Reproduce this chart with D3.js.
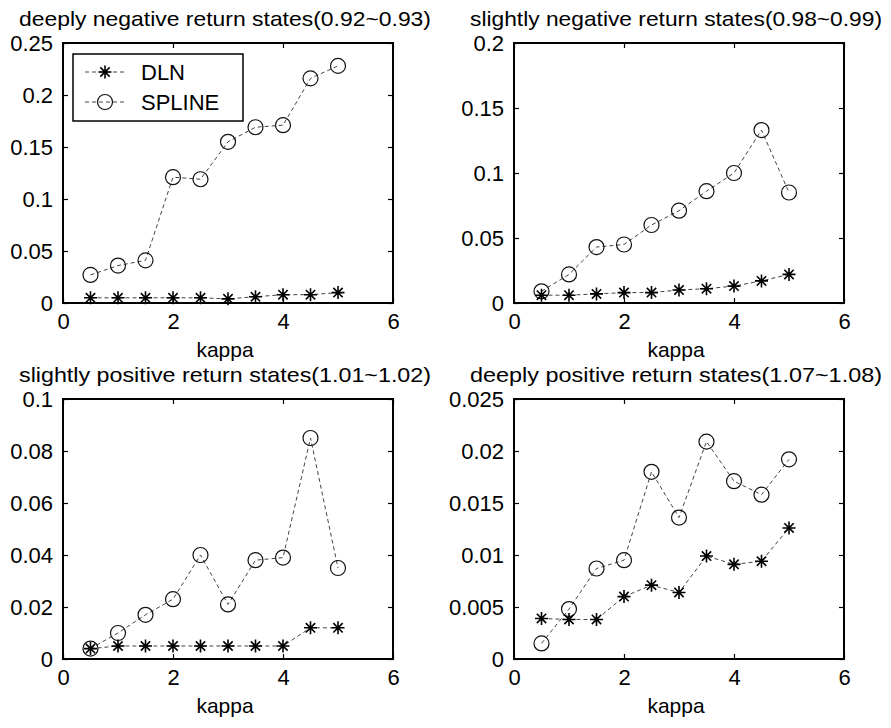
<!DOCTYPE html>
<html>
<head>
<meta charset="utf-8">
<script src="https://cdn.jsdelivr.net/npm/d3@7"></script>
<style>
  body { margin: 0; background: #fff; }
  svg text { font-family: "Liberation Sans", Arial, sans-serif; fill: #000; }
</style>
</head>
<body>
<svg width="891" height="728"></svg>
<script>
var kappa = [0.5, 1, 1.5, 2, 2.5, 3, 3.5, 4, 4.5, 5];

var dlnDeepNeg    = [0.005, 0.005, 0.005, 0.005, 0.005, 0.004, 0.006, 0.008, 0.008, 0.010];
var splineDeepNeg = [0.027, 0.036, 0.041, 0.121, 0.119, 0.155, 0.169, 0.171, 0.216, 0.228];

var dlnSlightNeg    = [0.006, 0.006, 0.007, 0.008, 0.008, 0.010, 0.011, 0.013, 0.017, 0.022];
var splineSlightNeg = [0.009, 0.022, 0.043, 0.045, 0.060, 0.071, 0.086, 0.100, 0.133, 0.085];

var dlnSlightPos    = [0.004, 0.005, 0.005, 0.005, 0.005, 0.005, 0.005, 0.005, 0.012, 0.012];
var splineSlightPos = [0.004, 0.010, 0.017, 0.023, 0.040, 0.021, 0.038, 0.039, 0.085, 0.035];

var dlnDeepPos    = [0.0039, 0.0038, 0.0038, 0.0060, 0.0071, 0.0064, 0.0099, 0.0091, 0.0094, 0.0126];
var splineDeepPos = [0.0015, 0.0048, 0.0087, 0.0095, 0.0180, 0.0136, 0.0209, 0.0171, 0.0158, 0.0192];

var titles = [
  "deeply negative return states(0.92~0.93)",
  "slightly negative return states(0.98~0.99)",
  "slightly positive return states(1.01~1.02)",
  "deeply positive return states(1.07~1.08)"
];
var xTicks = [0, 2, 4, 6];
var yTicks = [
  [0, 0.05, 0.1, 0.15, 0.2, 0.25],
  [0, 0.05, 0.1, 0.15, 0.2],
  [0, 0.02, 0.04, 0.06, 0.08, 0.1],
  [0, 0.005, 0.01, 0.015, 0.02, 0.025]
];
var seriesNames = ["DLN", "SPLINE"];
var xLabel = "kappa";

var panels = [
  {dln: dlnDeepNeg, spline: splineDeepNeg},
  {dln: dlnSlightNeg, spline: splineSlightNeg},
  {dln: dlnSlightPos, spline: splineSlightPos},
  {dln: dlnDeepPos, spline: splineDeepPos}
];

var svg = d3.select("svg"),
    colX = [63, 514],
    rowY = [43, 399],
    boxW = 330,
    boxH = 260;

function starPath(s) {
  var d = s * 0.72;
  return "M" + (-s) + ",0L" + s + ",0M0," + (-s) + "L0," + s +
         "M" + (-d) + "," + (-d) + "L" + d + "," + d +
         "M" + (-d) + "," + d + "L" + d + "," + (-d);
}

function drawMarker(sel, type) {
  if (type == "DLN") {
    sel.append("path")
      .attr("d", starPath(6.5))
      .attr("stroke", "#000")
      .attr("stroke-width", 1.6)
      .attr("fill", "none");
  } else {
    sel.append("circle")
      .attr("r", 7.5)
      .attr("stroke", "#111")
      .attr("stroke-width", 1.2)
      .attr("fill", "none");
  }
}

panels.forEach(function(p, i) {
  var left = colX[i % 2], top = rowY[Math.floor(i / 2)];
  var g = svg.append("g").attr("transform", "translate(" + left + "," + top + ")");
  var ticks = yTicks[i];

  var x = d3.scaleLinear().domain([0, 6]).range([0, boxW]),
      y = d3.scaleLinear().domain([0, ticks[ticks.length - 1]]).range([boxH, 0]);

  var fmt = d3.format("~g");

  g.append("g")
      .attr("transform", "translate(0," + boxH + ")")
      .call(d3.axisBottom(x).tickValues(xTicks).tickSize(-5).tickPadding(10).tickFormat(fmt));
  g.append("g")
      .call(d3.axisLeft(y).tickValues(ticks).tickSize(-5).tickPadding(10).tickFormat(fmt));
  g.append("g")
      .call(d3.axisTop(x).tickValues(xTicks).tickSize(-5).tickFormat(""));
  g.append("g")
      .attr("transform", "translate(" + boxW + ",0)")
      .call(d3.axisRight(y).tickValues(ticks).tickSize(-5).tickFormat(""));

  g.selectAll(".domain").remove();
  g.selectAll(".tick line").attr("stroke", "#000").attr("stroke-width", 1.2);
  g.selectAll(".tick text")
      .style("font-size", "22px")
      .style("font-family", "'Liberation Sans', Arial, sans-serif")
      .attr("fill", "#000");

  g.append("rect")
      .attr("width", boxW)
      .attr("height", boxH)
      .attr("fill", "none")
      .attr("stroke", "#000")
      .attr("stroke-width", 2);

  var line = d3.line()
      .x(function(d) { return x(d[0]); })
      .y(function(d) { return y(d[1]); });

  [["SPLINE", p.spline], ["DLN", p.dln]].forEach(function(s) {
    var pts = kappa.map(function(k, j) { return [k, s[1][j]]; });
    g.append("path")
        .attr("d", line(pts))
        .attr("fill", "none")
        .attr("stroke", "#444")
        .attr("stroke-width", 1)
        .attr("stroke-dasharray", "4,3");
    var m = g.selectAll(".m-" + s[0]).data(pts).enter().append("g")
        .attr("class", "m-" + s[0])
        .attr("transform", function(d) { return "translate(" + x(d[0]) + "," + y(d[1]) + ")"; });
    drawMarker(m, s[0]);
  });

  // title and x label
  svg.append("text")
      .attr("x", left + boxW / 2 - 3)
      .attr("y", top - 17)
      .attr("text-anchor", "middle")
      .attr("textLength", 412)
      .attr("lengthAdjust", "spacingAndGlyphs")
      .style("font-size", "21px")
      .text(titles[i]);

  svg.append("text")
      .attr("x", left + boxW / 2 - 3)
      .attr("y", top + boxH + 54)
      .attr("text-anchor", "middle")
      .style("font-size", "21px")
      .text(xLabel);

  if (i == 0) {
    var leg = g.append("g").attr("transform", "translate(10,11)");
    leg.append("rect")
        .attr("width", 170)
        .attr("height", 67)
        .attr("fill", "#fff")
        .attr("stroke", "#000")
        .attr("stroke-width", 1.5);
    seriesNames.forEach(function(name, j) {
      var row = leg.append("g").attr("transform", "translate(0," + (18 + j * 30) + ")");
      row.append("line")
          .attr("x1", 12).attr("x2", 52)
          .attr("stroke", "#444")
          .attr("stroke-width", 1)
          .attr("stroke-dasharray", "4,3");
      var mk = row.append("g").attr("transform", "translate(32,0)");
      drawMarker(mk, name);
      row.append("text")
          .attr("x", 68)
          .attr("dy", "0.36em")
          .style("font-size", "22px")
          .text(name);
    });
  }
});
</script>
</body>
</html>
